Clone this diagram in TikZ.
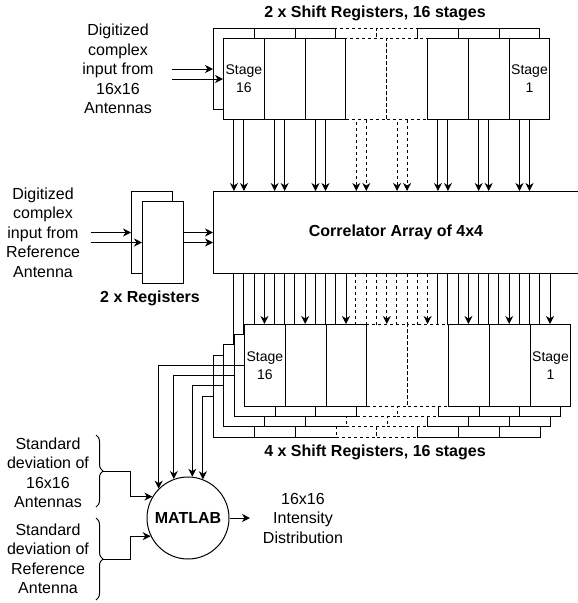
\documentclass[tikz,border=0pt]{standalone}
\usepackage{fontspec}
\setmainfont{Liberation Sans}
\usetikzlibrary{arrows.meta,decorations.pathreplacing,calc}
\begin{document}
\begin{tikzpicture}[x=1pt,y=-1pt,line width=1pt,
  txt/.style={font=\fontsize{16}{19.5}\selectfont,align=center,inner sep=0pt},
  btxt/.style={font=\fontsize{16}{19.5}\selectfont\bfseries,align=center,inner sep=0pt},
  stg/.style={font=\fontsize{14}{18}\selectfont,align=center,inner sep=0pt},
  cell/.style={draw,fill=white,minimum width=40.8pt,minimum height=81pt,inner sep=0pt,anchor=north west},
  dcell/.style={cell,dash pattern=on 3pt off 3pt},
  arr/.style={-{Stealth[length=8pt,width=8pt,inset=2.5pt]}},
  arrd/.style={arr,dash pattern=on 3pt off 3pt},
  brc/.style={decorate,decoration={brace,amplitude=7pt}}
]
\useasboundingbox (0,0) rectangle (578,603);

% correlator
\node[draw,minimum width=365pt,minimum height=82pt,inner sep=0pt,anchor=north west,btxt] (corr) at (213,191) {Correlator Array of 4x4};

% top shift registers: back row
\foreach \j in {3,4} \node[dcell] (tb\j) at ({213+40.8*\j},28) {};
\foreach \j in {0,1,2,5,6,7} \node[cell] (tb\j) at ({213+40.8*\j},28) {};
\foreach \j in {0,1,2,5,6,7} \draw[arr] (tb\j.south) -- (tb\j.south |- corr.north);
\foreach \j in {3,4} \draw[arrd] (tb\j.south) -- (tb\j.south |- corr.north);
% front row
\foreach \j in {0,1,2} \node[cell] (tf\j) at ({223+40.8*\j},38) {};
\foreach \j in {3,4} \node[dcell] (tf\j) at ({223+40.8*\j},38) {};
\foreach \j in {5,6,7} \node[cell] (tf\j) at ({223+40.8*\j},38) {};
\foreach \j in {0,1,2,5,6,7} \draw[arr] (tf\j.south) -- (tf\j.south |- corr.north);
\foreach \j in {3,4} \draw[arrd] (tf\j.south) -- (tf\j.south |- corr.north);
\node[stg] (st16a) at (tf0.center) {Stage\\16};
\node[stg] (st1a) at (tf7.center) {Stage\\1};

\node[btxt] (title1) at (375,13) {2 x Shift Registers, 16 stages};
\node[txt] (in16) at (118,69) {Digitized\\complex\\input from\\16x16\\Antennas};
\coordinate (i1) at (172,0);
\draw[arr] (i1 |- tb0.west) -- (tb0.west);
\draw[arr] (i1 |- tf0.west) -- (tf0.west);

% reference registers
\node[draw,fill=white,minimum width=40.8pt,minimum height=82pt,inner sep=0pt,anchor=north west] (rb) at (131,191) {};
\node[draw,fill=white,minimum width=40.8pt,minimum height=82pt,inner sep=0pt,anchor=north west] (rf) at (142,201) {};
\node[txt] (inref) at (43,232.5) {Digitized\\complex\\input from\\Reference\\Antenna};
\node[btxt] (regs) at (150,298) {2 x Registers};
\coordinate (r1) at (91,0);
\draw[arr] (r1 |- rb.west) -- (rb.west);
\draw[arr] (r1 |- rf.west) -- (rf.west);
\draw[arr] (rf.east |- rb.east) -- (corr.west |- rb.east);
\draw[arr] (rf.east) -- (corr.west |- rf.east);

% bottom shift registers (4 rows, back to front)
\foreach \k in {3,2,1,0} {
  \foreach \j in {0,...,7}
    \coordinate (p\k\j) at ({244-10.3*\k+40.8*\j+20.4},{324+10.2*\k});
  \foreach \j in {0,1,2,5,6,7} \draw[arr] (corr.south -| p\k\j) -- (p\k\j);
  \foreach \j in {3,4} \draw[arrd] (corr.south -| p\k\j) -- (p\k\j);
  \foreach \j in {0,1,2} \node[cell,minimum height=82pt] (b\k\j) at ({244-10.3*\k+40.8*\j},{324+10.2*\k}) {};
  \foreach \j in {3,4} \node[dcell,minimum height=82pt] (b\k\j) at ({244-10.3*\k+40.8*\j},{324+10.2*\k}) {};
  \foreach \j in {5,6,7} \node[cell,minimum height=82pt] (b\k\j) at ({244-10.3*\k+40.8*\j},{324+10.2*\k}) {};
}
\node[stg] (st16b) at (b00.center) {Stage\\16};
\node[stg] (st1b) at (b07.center) {Stage\\1};
\node[btxt] (title2) at (375,452) {4 x Shift Registers, 16 stages};

% MATLAB
\node[circle,draw,fill=white,minimum size=82pt,inner sep=0pt,btxt] (mat) at (188,518) {MATLAB};
\draw[arr] (b00.west) -| (mat.135);
\draw[arr] (b10.west) -| (mat.110);
\draw[arr] (b20.west) -| (mat.84);
\draw[arr] (b30.west) -| (mat.69);

% standard deviation inputs
\node[txt] (sd1) at (48,473) {Standard\\deviation of\\16x16\\Antennas};
\node[txt] (sd2) at (48,559) {Standard\\deviation of\\Reference\\Antenna};
\coordinate (ba1) at (96,435);
\coordinate (bb1) at (96,507);
\coordinate (ba2) at (96,518);
\coordinate (bb2) at (96,600);
\draw[brc] (ba1) -- (bb1);
\draw[brc] (ba2) -- (bb2);
\coordinate (bt1) at ($(ba1)!0.5!(bb1)+(7,0)$);
\coordinate (bt2) at ($(ba2)!0.5!(bb2)+(7,0)$);
\draw[arr] (bt1) -- ++(27,0) |- (mat.149);
\draw[arr] (bt2) -- ++(27,0) |- (mat.206);

% output
\node[txt] (out) at (303,518) {16x16\\Intensity\\Distribution};
\coordinate (otip) at (250,518);
\draw[arr] (mat.east) -- (otip);
\end{tikzpicture}
\end{document}
